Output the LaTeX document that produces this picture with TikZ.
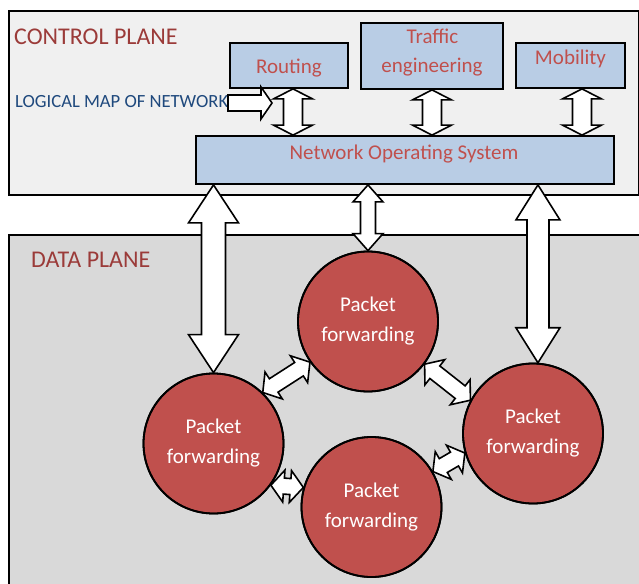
\documentclass[tikz,border=0pt]{standalone}
\usepackage{fontspec}
\setmainfont{Carlito}
\usetikzlibrary{calc}

\definecolor{cpfill}{HTML}{F0F0F0}
\definecolor{dpfill}{HTML}{D9D9D9}
\definecolor{boxblue}{HTML}{B9CDE5}
\definecolor{labelred}{HTML}{C0504D}
\definecolor{titlered}{HTML}{9B3B39}
\definecolor{mapblue}{HTML}{1F497D}
\definecolor{routerred}{HTML}{C0504D}

% block double arrow: #1 tip, #2 tip, #3 shaft half width, #4 head half width, #5 head length
\newcommand{\dblarrow}[5]{%
  \draw[blockarrow] (#1)
    -- ($(#1)!#5!(#2)!#4!90:(#2)$)
    -- ($(#1)!#5!(#2)!#3!90:(#2)$)
    -- ($(#2)!#5!(#1)!#3!-90:(#1)$)
    -- ($(#2)!#5!(#1)!#4!-90:(#1)$)
    -- (#2)
    -- ($(#2)!#5!(#1)!#4!90:(#1)$)
    -- ($(#2)!#5!(#1)!#3!90:(#1)$)
    -- ($(#1)!#5!(#2)!#3!-90:(#2)$)
    -- ($(#1)!#5!(#2)!#4!-90:(#2)$)
    -- cycle;}

% block single arrow: #1 tail, #2 tip, #3 shaft half width, #4 head half width, #5 head length
\newcommand{\onearrow}[5]{%
  \draw[blockarrow] ($(#1)!#3!90:(#2)$)
    -- ($(#2)!#5!(#1)!#3!-90:(#1)$)
    -- ($(#2)!#5!(#1)!#4!-90:(#1)$)
    -- (#2)
    -- ($(#2)!#5!(#1)!#4!90:(#1)$)
    -- ($(#2)!#5!(#1)!#3!90:(#1)$)
    -- ($(#1)!#3!-90:(#2)$)
    -- cycle;}

\begin{document}
\begin{tikzpicture}[x=1pt, y=-1pt,
  plane/.style={draw=black, line width=1.8pt},
  box/.style={draw=black, fill=boxblue, line width=1.8pt, inner sep=0pt},
  boxlabel/.style={text=labelred, font=\fontsize{21}{30}\selectfont, inner sep=0pt, align=center},
  planetitle/.style={text=titlered, font=\fontsize{24}{28}\selectfont, inner sep=0pt, anchor=west},
  router/.style={circle, draw=black, line width=1.8pt, fill=routerred, minimum size=140pt,
    inner sep=0pt, text=white, align=center, font=\fontsize{21}{30}\selectfont},
  blockarrow/.style={draw=black, fill=white, line width=1.6pt, line join=miter}]

\useasboundingbox (0,0) rectangle (639,583);
\clip (0,0) rectangle (639,583);
\fill[white] (0,0) rectangle (639,583);

% the two planes
\draw[plane, fill=cpfill] (9,11) rectangle (638.5,195);
\draw[plane, fill=dpfill] (9,235) rectangle (642,600);
\node[planetitle] (cptitle) at (14,37) {CONTROL PLANE};
\node[planetitle] (dptitle) at (31,260) {DATA PLANE};

% control plane applications and the network operating system
\node[box, minimum width=118pt, minimum height=45pt] (routing) at (289,65.5) {};
\node[box, minimum width=142pt, minimum height=66pt] (traffic) at (432,56) {};
\node[box, minimum width=109pt, minimum height=45pt] (mobility) at (570.5,65.5) {};
\node[box, minimum width=418pt, minimum height=48pt] (nos) at (405,160) {};

\node[boxlabel, anchor=base] (routingtxt) at (289,74) {Routing};
\node[boxlabel, anchor=base] (traffictxt1) at (432.5,44) {Traffic};
\node[boxlabel, anchor=base] (traffictxt2) at (432,73) {engineering};
\node[boxlabel, anchor=base] (mobilitytxt) at (570.5,65) {Mobility};
\node[boxlabel, anchor=base] (nostxt) at (404,159) {Network Operating System};

\node[text=mapblue, font=\fontsize{18.6}{20}\selectfont, inner sep=0pt, anchor=west]
  (map) at (15,101.5) {LOGICAL MAP OF NETWORK};

% packet forwarding elements
\node[router] (T) at (368,321.5) {};
\node[router] (L) at (213.5,443.5) {};
\node[router] (R) at (533,433.5) {};
\node[router] (B) at (371.5,507) {};

% arrows inside the control plane
\coordinate (maptail) at (228,103);
\coordinate (maptip) at (272,103);
\onearrow{maptail}{maptip}{8pt}{16pt}{11pt}

\coordinate (rtop) at ([xshift=4pt]routing.south);
\coordinate (rbot) at (rtop |- nos.north);
\dblarrow{rtop}{rbot}{9.5pt}{19.5pt}{10pt}

\coordinate (ttop) at (traffic.south);
\coordinate (tbot) at (ttop |- nos.north);
\dblarrow{ttop}{tbot}{9.5pt}{19.5pt}{10pt}

\coordinate (mtop) at ([xshift=11.5pt]mobility.south);
\coordinate (mbot) at (mtop |- nos.north);
\dblarrow{mtop}{mbot}{9.5pt}{19.5pt}{10pt}

% arrows between the operating system and the data plane
\coordinate (ltip) at (L.north);
\coordinate (lsrc) at (ltip |- nos.south);
\dblarrow{lsrc}{ltip}{12pt}{25pt}{38pt}

\coordinate (ttip) at (T.north);
\coordinate (tsrc) at (ttip |- nos.south);
\dblarrow{tsrc}{ttip}{7.5pt}{15pt}{17pt}

\coordinate (rtip) at (R.86);
\coordinate (rsrc) at (rtip |- nos.south);
\dblarrow{rsrc}{rtip}{11pt}{22pt}{35pt}

% arrows between the forwarding elements
\coordinate (lt1) at (L.46);  \coordinate (lt2) at (T.215);
\coordinate (tr1) at (T.-37); \coordinate (tr2) at (R.152);
\coordinate (lb1) at (L.-36); \coordinate (lb2) at (B.164);
\coordinate (br1) at (B.30);  \coordinate (br2) at (R.196);
\dblarrow{lt1}{lt2}{8pt}{16pt}{13pt}
\dblarrow{tr1}{tr2}{8pt}{16pt}{13pt}
\dblarrow{lb1}{lb2}{8pt}{16pt}{13pt}
\dblarrow{br1}{br2}{8pt}{16pt}{12pt}

% circles drawn again on top so the arrow tips sit on their rims
\foreach \c in {T,L,R,B} {
  \draw[line width=1.8pt] (\c.center) circle[radius=70pt];
}
\node[router, draw=none, fill=none] (Ttxt) at (T) {Packet\\forwarding};
\node[router, draw=none, fill=none] (Ltxt) at (L) {Packet\\forwarding};
\node[router, draw=none, fill=none] (Rtxt) at (R) {Packet\\forwarding};
\node[router, draw=none, fill=none] (Btxt) at (B) {Packet\\forwarding};

\end{tikzpicture}
\end{document}
